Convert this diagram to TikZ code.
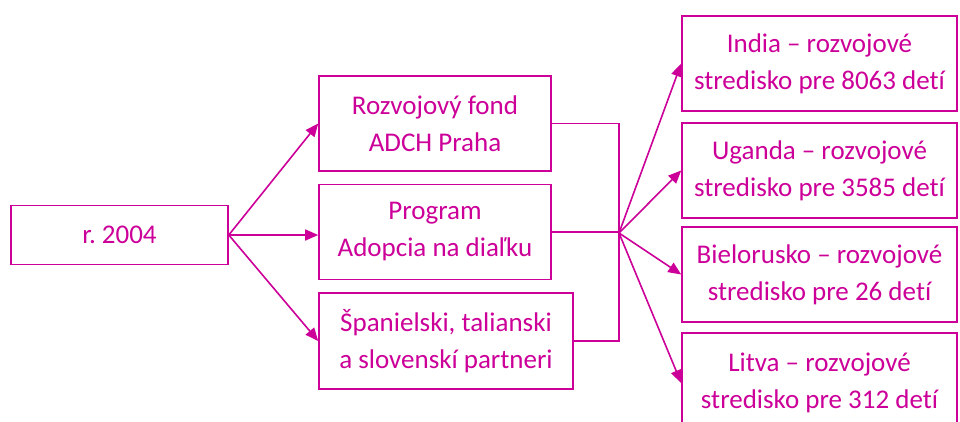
\documentclass[tikz,border=0pt]{standalone}
\usepackage{fontspec}
\setmainfont[Ligatures=NoCommon]{Carlito}
\usetikzlibrary{arrows.meta}
\definecolor{mag}{RGB}{204,0,153}
\tikzset{
  box/.style={draw=mag, line width=1.6pt, rectangle, align=center, text=mag,
    font=\fontsize{27}{37}\selectfont, inner sep=0pt},
  conn/.style={draw=mag, line width=1.6pt},
  arr/.style={conn, -{Triangle[length=13pt,width=11pt]}}
}
\begin{document}
\begin{tikzpicture}[x=1pt,y=-1pt]
\clip (0,0) rectangle (960,421);
\fill[white] (0,0) rectangle (960,421);
\node[box, minimum width=217pt, minimum height=59pt] (a) at (119.5,235) {r.\ 2004};
\node[box, minimum width=232pt, minimum height=95pt] (m1) at (435,123.5) {Rozvojový fond\\ADCH Praha};
\node[box, minimum width=232pt, minimum height=95pt] (m2) at (435,232) {Program\\Adopcia na diaľku};
\node[box, minimum width=254pt, minimum height=96pt] (m3) at (446,341) {Španielski, talianski\\a slovenskí partneri};
\node[box, minimum width=275pt, minimum height=95pt] (r1) at (819.5,63.5) {India – rozvojové\\stredisko pre 8063 detí};
\node[box, minimum width=275pt, minimum height=95pt] (r2) at (819.5,170.5) {Uganda – rozvojové\\stredisko pre 3585 detí};
\node[box, minimum width=275pt, minimum height=95pt] (r3) at (819.5,274.5) {Bielorusko – rozvojové\\stredisko pre 26 detí};
\node[box, minimum width=275pt, minimum height=100pt] (r4) at (819.5,383) {Litva – rozvojové\\stredisko pre 312 detí};
\coordinate (hub) at (619,233);
\draw[arr] (a.east) -- (m1.west);
\draw[arr] (a.east) -- (a.east -| m2.west);
\draw[arr] (a.east) -- (m3.west);
\draw[conn] (m1.east) -- (m1.east -| hub) -- (m3.east -| hub) -- (m3.east);
\draw[conn] (m2.east) -- (m2.east -| hub);
\draw[arr] (hub) -- (r1.west);
\draw[arr] (hub) -- (r2.west);
\draw[arr] (hub) -- (r3.west);
\draw[arr] (hub) -- (r4.west);
\end{tikzpicture}
\end{document}
